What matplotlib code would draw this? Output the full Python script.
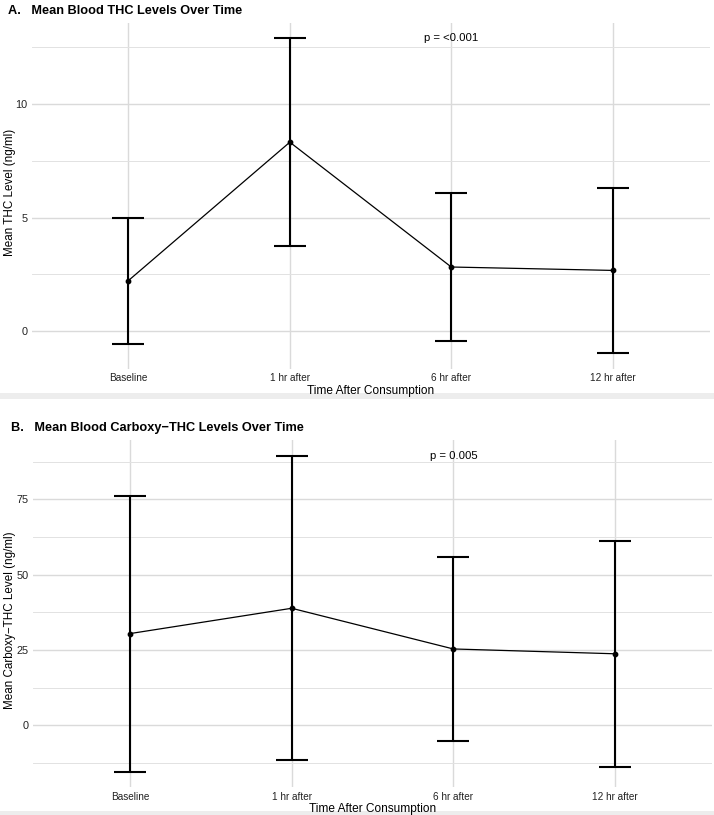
import numpy as np
import matplotlib
matplotlib.use("Agg")
import matplotlib.pyplot as plt
from matplotlib.patches import Rectangle

plt.rcParams['font.family'] = ['Liberation Sans', 'DejaVu Sans']

times = ["Baseline", "1 hr after", "6 hr after", "12 hr after"]

thc_mean = [2.22, 8.32, 2.82, 2.67]
thc_err = [2.78, 4.58, 3.26, 3.65]
thc_p = "p = <0.001"

cthc_mean = [30.4, 38.8, 25.3, 23.7]
cthc_err = [45.8, 50.5, 30.5, 37.5]
cthc_p = "p = 0.005"

W, H = 714, 815
fig = plt.figure(figsize=(W / 100, H / 100), dpi=100)


def px_axes(left, top, right, bottom):
    return fig.add_axes([left / W, 1 - bottom / H, (right - left) / W, (bottom - top) / H])


def draw_panel(ax, box, means, errs, ylabel, ylab_y, ptext, yticks, minor):
    left, top, right, bottom = box
    x = np.arange(len(times))
    means = np.array(means)
    errs = np.array(errs)
    lo = (means - errs).min()
    hi = (means + errs).max()
    pad = (hi - lo) * 0.05
    ax.set_ylim(lo - pad, hi + pad)
    ax.set_xlim(-0.6, len(times) - 0.4)

    ax.set_yticks(yticks)
    ax.set_yticks(minor, minor=True)
    ax.set_xticks(x)
    ax.set_xticklabels(times, fontsize=7.2, color='#222222')
    ax.tick_params(axis='y', labelsize=7.8, colors='#222222')
    ax.tick_params(length=0, pad=3)
    ax.tick_params(which='minor', length=0)
    ax.grid(True, which='major', color='#dadada', linewidth=1.0)
    ax.grid(True, which='minor', axis='y', color='#e2e2e2', linewidth=0.7)
    ax.set_axisbelow(True)
    for s in ax.spines.values():
        s.set_visible(False)

    ax.plot(x, means, color='black', linewidth=0.9, zorder=3)
    ax.errorbar(x, means, yerr=errs, fmt='none', ecolor='black',
                elinewidth=1.5, capsize=11.8, capthick=1.5, zorder=4)
    ax.scatter(x, means, s=10, color='black', zorder=5)

    ax.text(2, hi, ptext, ha='center', va='center', fontsize=8.2)
    ax.set_xlabel("Time After Consumption", fontsize=8.6, labelpad=1)
    ax.set_ylabel(ylabel, fontsize=8.4, va='center')
    ax.yaxis.set_label_coords((10 - left) / (right - left),
                              (bottom - ylab_y) / (bottom - top))


# faint separator bands under each panel
for y0, y1 in ((393, 399), (811, 815)):
    fig.add_artist(Rectangle((0, 1 - y1 / H), 1, (y1 - y0) / H, zorder=-1,
                             transform=fig.transFigure, color='#ededed', lw=0))

box1 = (31.5, 22.5, 709.6, 369)
ax1 = px_axes(*box1)
draw_panel(ax1, box1, thc_mean, thc_err, "Mean THC Level (ng/ml)", 192, thc_p,
           [0, 5, 10], [2.5, 7.5, 12.5])
fig.text(8 / W, 1 - 10.5 / H, "A.   Mean Blood THC Levels Over Time",
         fontsize=9.2, fontweight='bold', va='center', ha='left')

box2 = (33, 440.3, 712, 787.4)
ax2 = px_axes(*box2)
draw_panel(ax2, box2, cthc_mean, cthc_err, "Mean Carboxy\u2212THC Level (ng/ml)", 620,
           cthc_p, [0, 25, 50, 75], [-12.5, 12.5, 37.5, 62.5, 87.5])
fig.text(11 / W, 1 - 428.5 / H, "B.   Mean Blood Carboxy\u2212THC Levels Over Time",
         fontsize=9.2, fontweight='bold', va='center', ha='left')

fig.savefig("out.png", dpi=100)
